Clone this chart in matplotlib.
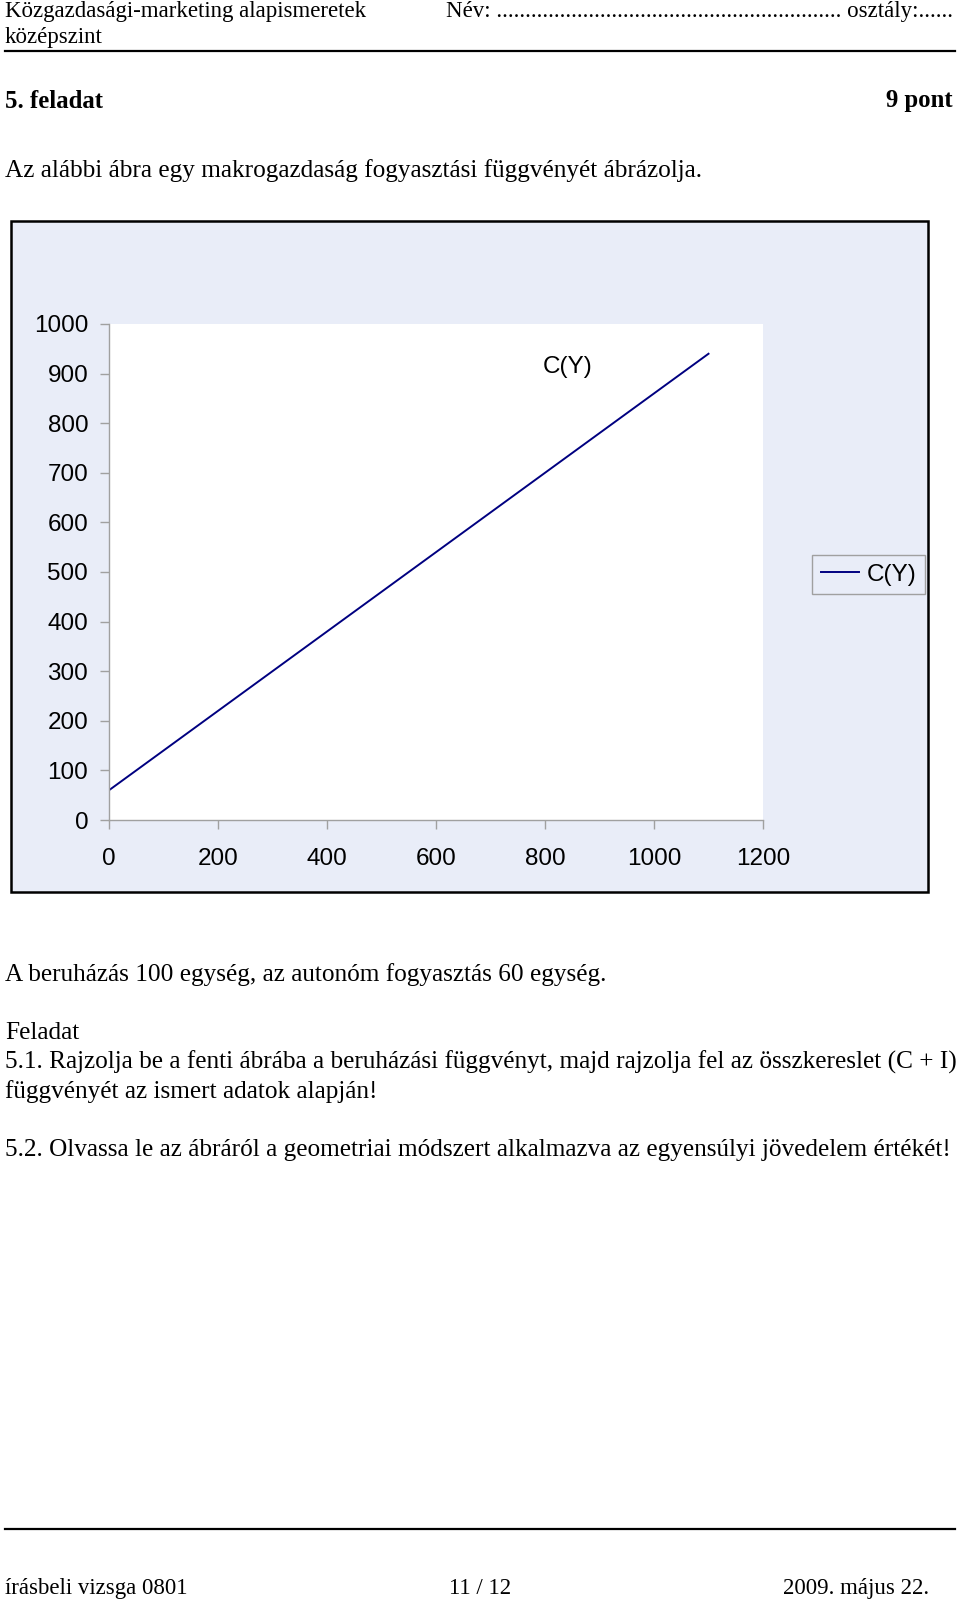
import matplotlib.pyplot as plt
from matplotlib.lines import Line2D
from matplotlib.patches import Rectangle

# data: C(Y) consumption function
income = [0, 200, 400, 600, 800, 1000, 1100]
consumption = [60, 220, 380, 540, 700, 860, 940]
x_ticks = [0, 200, 400, 600, 800, 1000, 1200]
y_ticks = [0, 100, 200, 300, 400, 500, 600, 700, 800, 900, 1000]
series_name = "C(Y)"

W, H = 960, 1601
CHART_BG = "#E9EDF8"
AXIS_GRAY = "#A0A0A0"
LINE_COLOR = "#000080"
SERIF = "Liberation Serif"
SANS = "Liberation Sans"


def fx(x):
    return x / W


def fy(y):
    return 1 - y / H


fig = plt.figure(figsize=(W / 100, H / 100), dpi=100)
fig.patch.set_facecolor("white")


def page_text(x, y, s, ha="left", weight="normal", size=16.5):
    fig.text(fx(x), fy(y), s, ha=ha, va="center", fontsize=size,
             family=SERIF, weight=weight)


# page header
page_text(5, 11, "Közgazdasági-marketing alapismeretek")
page_text(446, 11, "Név: " + "." * 60 + " osztály:......")
page_text(5, 37, "középszint")
fig.add_artist(Line2D([fx(5), fx(955)], [fy(51), fy(51)], lw=1.6, color="black"))

page_text(5, 101, "5. feladat", weight="bold", size=17.8)
page_text(953, 101, "9 pont", ha="right", weight="bold", size=17.8)
page_text(5, 171, "Az alábbi ábra egy makrogazdaság fogyasztási függvényét ábrázolja.", size=18.2)

# chart area frame
fig.add_artist(Rectangle((fx(11), fy(892)), fx(928) - fx(11), fy(221) - fy(892),
                         transform=fig.transFigure, facecolor=CHART_BG,
                         edgecolor="black", lw=1.8, zorder=0))

ax = fig.add_axes([fx(109), fy(820), (763 - 109) / W, (820 - 324) / H], zorder=2)
ax.set_facecolor("white")
line, = ax.plot(income, consumption, color=LINE_COLOR, lw=1.4, label=series_name)
ax.set_xlim(0, 1200)
ax.set_ylim(0, 1000)
ax.set_xticks(x_ticks)
ax.set_yticks(y_ticks)
for side in ["top", "right"]:
    ax.spines[side].set_visible(False)
for side in ["left", "bottom"]:
    ax.spines[side].set_color(AXIS_GRAY)
    ax.spines[side].set_linewidth(1)
ax.tick_params(direction="out", length=6.5, width=1, color=AXIS_GRAY, labelsize=17.5)
ax.tick_params(axis="y", pad=8.5)
ax.tick_params(axis="x", pad=13.5)
for lbl in ax.get_xticklabels() + ax.get_yticklabels():
    lbl.set_family(SANS)
ax.text(842, 913, series_name, ha="center", va="center", fontsize=17.5, family=SANS)

leg = fig.legend(handles=[line], loc="upper left", bbox_to_anchor=(fx(812), fy(555)),
                 fancybox=False, edgecolor=AXIS_GRAY, facecolor=CHART_BG, framealpha=1,
                 handlelength=1.6, handletextpad=0.3, borderpad=0.35, borderaxespad=0,
                 prop={"family": SANS, "size": 17.5})
leg.get_frame().set_linewidth(1)

# task text
page_text(5, 975, "A beruházás 100 egység, az autonóm fogyasztás 60 egység.", size=18.2)
page_text(5, 1033, "Feladat", size=18.2)
page_text(5, 1062, "5.1. Rajzolja be a fenti ábrába a beruházási függvényt, majd rajzolja fel az összkereslet (C + I)", size=18.2)
page_text(5, 1092, "függvényét az ismert adatok alapján!", size=18.2)
page_text(5, 1150, "5.2. Olvassa le az ábráról a geometriai módszert alkalmazva az egyensúlyi jövedelem értékét!", size=18.2)

# footer
fig.add_artist(Line2D([fx(5), fx(955)], [fy(1529), fy(1529)], lw=1.6, color="black"))
page_text(5, 1588, "írásbeli vizsga 0801")
page_text(480, 1588, "11 / 12", ha="center")
page_text(929, 1588, "2009. május 22.", ha="right")

fig.savefig("out.png", dpi=100)
